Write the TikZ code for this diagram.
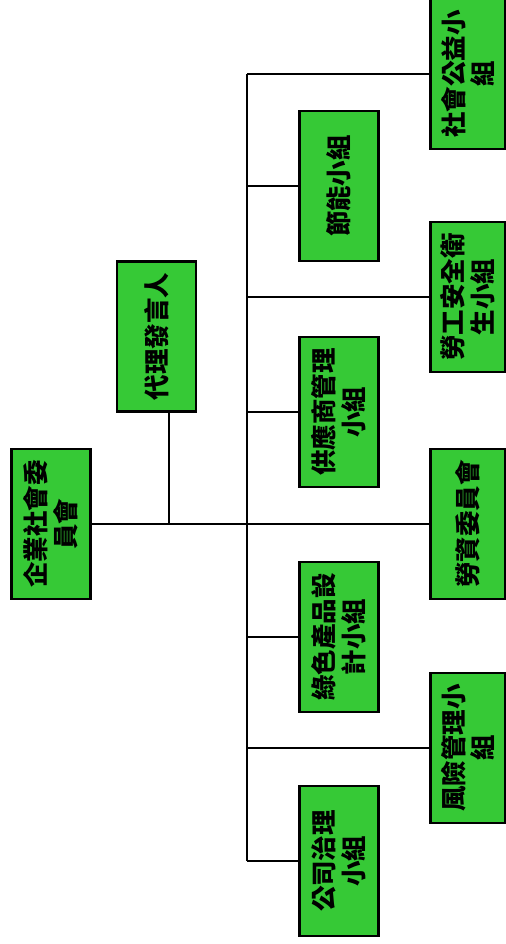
\documentclass[tikz,border=0pt]{standalone}
\usepackage{fontspec}
\newfontfamily\cjk{Noto Sans CJK TC}
\usetikzlibrary{positioning}
\definecolor{cgreen}{HTML}{36C936}
\tikzset{
  every picture/.style={font=\cjk, line width=0.8pt},
  unit/.style={draw=black, fill=cgreen, line width=1.4pt, rotate=90, align=center, inner sep=2pt,
               minimum width=3.0cm, minimum height=#1, font=\cjk\bfseries\fontsize{14.5pt}{17pt}\selectfont},
  unit/.default=1.58cm,
  link/.style={draw=black, line width=0.8pt},
}
\begin{document}
\begin{tikzpicture}[x=0.02cm, y=-0.02cm]
  \useasboundingbox (0,0) rectangle (506,944);
  % committee and spokesperson
  \node[unit] (ceo) at (51, 524) {企業社會委\\員會};
  \node[unit] (spk) at (156.5, 336.5) {代理發言人};
  % middle column
  \node[unit] (energy) at (339, 186) {節能小組};
  \node[unit] (supply) at (339, 412) {供應商管理\\小組};
  \node[unit] (green) at (339, 637) {綠色產品設\\計小組};
  \node[unit] (gov) at (339, 861) {公司治理\\小組};
  % right column
  \node[unit=1.5cm] (csr) at (468, 74) {社會公益小\\組};
  \node[unit=1.5cm] (safety) at (468, 297) {勞工安全衛\\生小組};
  \node[unit=1.5cm] (labor) at (468, 524) {勞資委員會};
  \node[unit=1.5cm] (risk) at (468, 748) {風險管理小\\組};
  % connectors
  \coordinate (trunk) at (247, 0);
  \coordinate (tap) at (169, 524);
  \draw[link] (ceo.south) -- (labor.north);
  \draw[link] (tap) -- (tap |- spk.west);
  \draw[link] (csr.north -| trunk) -- (gov.north -| trunk);
  \foreach \n in {csr, safety, risk, energy, supply, green, gov}
    \draw[link] (\n.north -| trunk) -- (\n.north);
\end{tikzpicture}
\end{document}
